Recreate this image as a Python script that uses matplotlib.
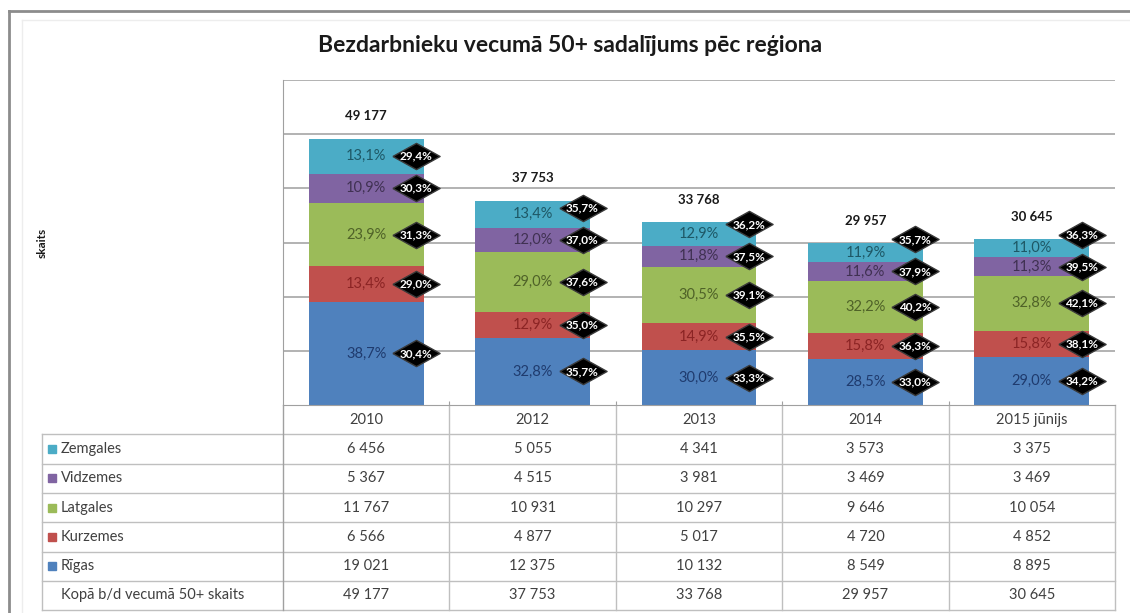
import matplotlib
matplotlib.use("Agg")
import matplotlib.pyplot as plt
from matplotlib.lines import Line2D

plt.rcParams["font.family"] = ["Lato", "DejaVu Sans"]

# Data
years = ["2010", "2012", "2013", "2014", "2015 jūnijs"]
regions = ["Rīgas", "Kurzemes", "Latgales", "Vidzemes", "Zemgales"]
rigas = [19021, 12375, 10132, 8549, 8895]
kurzemes = [6566, 4877, 5017, 4720, 4852]
latgales = [11767, 10931, 10297, 9646, 10054]
vidzemes = [5367, 4515, 3981, 3469, 3469]
zemgales = [6456, 5055, 4341, 3573, 3375]
totals = [49177, 37753, 33768, 29957, 30645]

# share of region in total 50+ (labels inside bars)
share_rigas = ["38,7%", "32,8%", "30,0%", "28,5%", "29,0%"]
share_kurzemes = ["13,4%", "12,9%", "14,9%", "15,8%", "15,8%"]
share_latgales = ["23,9%", "29,0%", "30,5%", "32,2%", "32,8%"]
share_vidzemes = ["10,9%", "12,0%", "11,8%", "11,6%", "11,3%"]
share_zemgales = ["13,1%", "13,4%", "12,9%", "11,9%", "11,0%"]

# share of 50+ among region's unemployed (diamond labels)
dia_rigas = ["30,4%", "35,7%", "33,3%", "33,0%", "34,2%"]
dia_kurzemes = ["29,0%", "35,0%", "35,5%", "36,3%", "38,1%"]
dia_latgales = ["31,3%", "37,6%", "39,1%", "40,2%", "42,1%"]
dia_vidzemes = ["30,3%", "37,0%", "37,5%", "37,9%", "39,5%"]
dia_zemgales = ["29,4%", "35,7%", "36,2%", "35,7%", "36,3%"]

series = [rigas, kurzemes, latgales, vidzemes, zemgales]
shares = [share_rigas, share_kurzemes, share_latgales, share_vidzemes, share_zemgales]
diamonds = [dia_rigas, dia_kurzemes, dia_latgales, dia_vidzemes, dia_zemgales]
colors = ["#4F81BD", "#C0504D", "#9BBB59", "#8064A2", "#4BACC6"]
text_colors = ["#1F3B6E", "#8B2424", "#4F6228", "#403152", "#1E5866"]


def fmt(n):
    return f"{n:,}".replace(",", " ")


W, H = 1130, 613
fig = plt.figure(figsize=(W / 100, H / 100), dpi=100, facecolor="white")

# Plot area placed in pixel terms
px_left, px_right, px_top, px_bottom = 283, 1115, 80, 405
ax = fig.add_axes([px_left / W, 1 - px_bottom / H,
                   (px_right - px_left) / W, (px_bottom - px_top) / H])
ymax = 60000
ax.set_xlim(-0.5, len(years) - 0.5)
ax.set_ylim(0, ymax)
ax.set_yticks(range(10000, ymax + 1, 10000))
ax.set_yticklabels([])
ax.set_xticks([i + 0.5 for i in range(len(years) - 1)])
ax.set_xticklabels([])
ax.tick_params(axis="y", length=0)
ax.tick_params(axis="x", length=3, direction="in", color="#A0A0A0")
ax.grid(axis="y", color="#A6A6A6", linewidth=1.2)
ax.set_axisbelow(True)
for side in ["top", "right"]:
    ax.spines[side].set_visible(False)
ax.spines["left"].set_color("#A0A0A0")
ax.spines["bottom"].set_color("#A0A0A0")

x = list(range(len(years)))
bar_w = 0.69
px_per_unit = (px_bottom - px_top) / ymax
min_gap = 32 / px_per_unit

dia_marker = [(-1.8, 0), (0, 1), (1.8, 0), (0, -1), (-1.8, 0)]

bottoms = [0] * len(years)
centers = [[0] * len(years) for _ in series]
for s, vals in enumerate(series):
    ax.bar(x, vals, bottom=bottoms, width=bar_w, color=colors[s], zorder=2)
    for i, v in enumerate(vals):
        centers[s][i] = bottoms[i] + v / 2
        ax.text(i, bottoms[i] + v / 2, shares[s][i], ha="center", va="center",
                fontsize=10.5, color=text_colors[s], zorder=3)
    bottoms = [b + v for b, v in zip(bottoms, vals)]

# Diamond labels, pushed apart so they do not overlap
for i in x:
    prev = None
    for s in range(len(series)):
        y = centers[s][i]
        if prev is not None and y - prev < min_gap:
            y = prev + min_gap
        prev = y
        ax.plot(i + 0.30, y, marker=dia_marker, markersize=34, color="black",
                markeredgecolor="#3A3A3A", zorder=4, clip_on=False)
        ax.text(i + 0.30, y, diamonds[s][i], ha="center", va="center",
                fontsize=8.5, fontweight="bold", color="white", zorder=5)

# Totals above bars
for i, t in enumerate(totals):
    ax.annotate(fmt(t), (i, t), xytext=(0, 16), textcoords="offset points",
                ha="center", va="center", fontsize=9.5, fontweight="bold",
                color="#1A1A1A")

# Data table under the chart
tr = ax.get_xaxis_transform()
row_h = 29.3 / (px_bottom - px_top)
unit_px = (px_right - px_left) / len(years)
x_tab_left = -0.5 - (px_left - 42) / unit_px
x_square = -0.5 - (px_left - 52) / unit_px
x_label = -0.5 - (px_left - 61) / unit_px
line_c = "#BFBFBF"
txt_c = "#404040"

for i, yr in enumerate(years):
    ax.text(i, -row_h / 2, yr, transform=tr, ha="center", va="center",
            fontsize=10.5, color=txt_c)

table_rows = list(reversed(list(zip(regions, series, colors))))
for r, (name, vals, col) in enumerate(table_rows):
    yc = -row_h * (r + 1.5)
    ax.plot(x_square, yc, marker="s", markersize=5.5, color=col,
            transform=tr, clip_on=False)
    ax.text(x_label, yc, name, transform=tr, ha="left", va="center",
            fontsize=10.5, color=txt_c)
    for i, v in enumerate(vals):
        ax.text(i, yc, fmt(v), transform=tr, ha="center", va="center",
                fontsize=10.5, color=txt_c)

yc = -row_h * (len(table_rows) + 1.5)
ax.text(x_label, yc, "Kopā b/d vecumā 50+ skaits", transform=tr, ha="left",
        va="center", fontsize=10.5, color=txt_c)
for i, t in enumerate(totals):
    ax.text(i, yc, fmt(t), transform=tr, ha="center", va="center",
            fontsize=10.5, color=txt_c)

n_rows = len(table_rows) + 1
y_end = -row_h * (n_rows + 1)
for k in range(1, n_rows + 2):
    ax.add_line(Line2D([x_tab_left, len(years) - 0.5], [-row_h * k] * 2,
                       transform=tr, color=line_c, lw=1, clip_on=False))
ax.add_line(Line2D([x_tab_left] * 2, [-row_h, y_end], transform=tr,
                   color=line_c, lw=1, clip_on=False))
ax.add_line(Line2D([-0.5] * 2, [0, y_end], transform=tr,
                   color="#A0A0A0", lw=1, clip_on=False))
for i in range(len(years)):
    ax.add_line(Line2D([i + 0.5] * 2, [0, y_end], transform=tr,
                       color=line_c, lw=1, clip_on=False))

# Title and axis label
fig.text(570 / W, 1 - 45 / H, "Bezdarbnieku vecumā 50+ sadalījums pēc reģiona",
         ha="center", va="center", fontsize=16.5, fontweight="bold", color="#1A1A1A")
fig.text(42 / W, 1 - 243 / H, "skaits", rotation=90, ha="center", va="center",
         fontsize=8.5, fontweight="bold", color="#1A1A1A")

# Outer frame (left and top edges)
fig.add_artist(Line2D([9 / W, 9 / W], [0, 1 - 11 / H], color="#8C8C8C", lw=2))
fig.add_artist(Line2D([9 / W, 1], [1 - 11 / H, 1 - 11 / H], color="#8C8C8C", lw=2))
fig.add_artist(Line2D([22 / W, 22 / W], [0, 1 - 20 / H], color="#EDEDED", lw=1))
fig.add_artist(Line2D([22 / W, 1], [1 - 20 / H, 1 - 20 / H], color="#EDEDED", lw=1))

fig.savefig("out.png", dpi=100, facecolor="white")
